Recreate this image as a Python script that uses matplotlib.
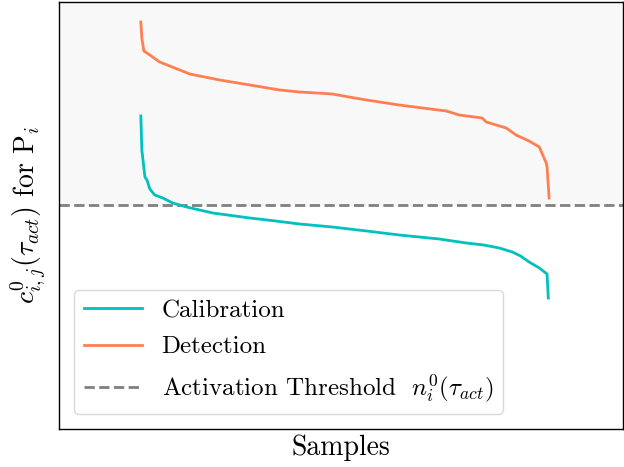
import matplotlib
matplotlib.use("Agg")
import matplotlib.pyplot as plt
import numpy as np

plt.rcParams['font.family'] = 'serif'
plt.rcParams['font.serif'] = ['cmr10', 'DejaVu Serif']
plt.rcParams['mathtext.fontset'] = 'cm'
plt.rcParams['axes.unicode_minus'] = False
plt.rcParams['axes.formatter.use_mathtext'] = True

# Detection curve (sorted scores)
det_x = [0, 0.24, 0.73, 2.2, 4.6, 8.3, 12.0, 14.4, 19.3, 26.7, 34.0, 38.9, 43.0, 46.9,
         51.0, 55.3, 63.3, 69.0, 74.8, 78.0, 83.6, 84.6, 89.5, 91.9, 95.1, 97.6, 99.3, 99.5, 100]
det_y = [4.07, 3.91, 3.78, 3.74, 3.67, 3.61, 3.55, 3.53, 3.49, 3.44, 3.39, 3.37, 3.36, 3.35,
         3.32, 3.29, 3.24, 3.21, 3.18, 3.14, 3.11, 3.07, 3.01, 2.94, 2.88, 2.82, 2.66, 2.62, 2.31]

# Calibration curve
cal_x = [0, 0.24, 1.0, 1.5, 2.2, 3.4, 5.4, 7.8, 11.2, 17.6, 26.7, 33.0, 38.9, 46.9,
         55.3, 63.3, 73.1, 79.7, 84.0, 87.8, 91.0, 93.0, 95.1, 97.6, 99.5, 99.8]
cal_y = [3.13, 2.79, 2.52, 2.49, 2.40, 2.34, 2.31, 2.26, 2.22, 2.16, 2.11, 2.08, 2.05, 2.02,
         1.98, 1.94, 1.90, 1.86, 1.84, 1.81, 1.77, 1.73, 1.67, 1.61, 1.55, 1.31]

threshold = 2.24
x_lim = (-20.05, 118.1)
y_lim = (0.0, 4.27)

fig = plt.figure(figsize=(6.24, 4.67), dpi=100)
ax = fig.add_axes([59/624, 1-429/467, 564/624, 427/467])

ax.axhspan(threshold, y_lim[1], color='#f8f8f8', zorder=0)
ax.plot(cal_x, cal_y, color='#00c0c0', lw=2, label='Calibration', zorder=3)
ax.plot(det_x, det_y, color='#ff7f50', lw=2, label='Detection', zorder=3)
ax.axhline(threshold, color='gray', ls='--', lw=2,
           label=r'Activation Threshold  $n^0_i(\tau_{act})$', zorder=2)

ax.set_xlim(*x_lim)
ax.set_ylim(*y_lim)
ax.set_xticks([])
ax.set_yticks([])
for s in ax.spines.values():
    s.set_linewidth(1.0)
    s.set_color('black')

ax.set_xlabel('Samples', fontsize=20, labelpad=4)
ax.set_ylabel(r'$c^0_{i,j}(\tau_{act})$ for P$_i$', fontsize=20, labelpad=8)

leg = ax.legend(loc='lower left', fontsize=18, handlelength=2.3, frameon=True,
                fancybox=True, framealpha=1.0, borderaxespad=0.6,
                labelspacing=0.55)
leg.get_frame().set_edgecolor('#d9d9d9')

fig.savefig('out.png', dpi=100)
